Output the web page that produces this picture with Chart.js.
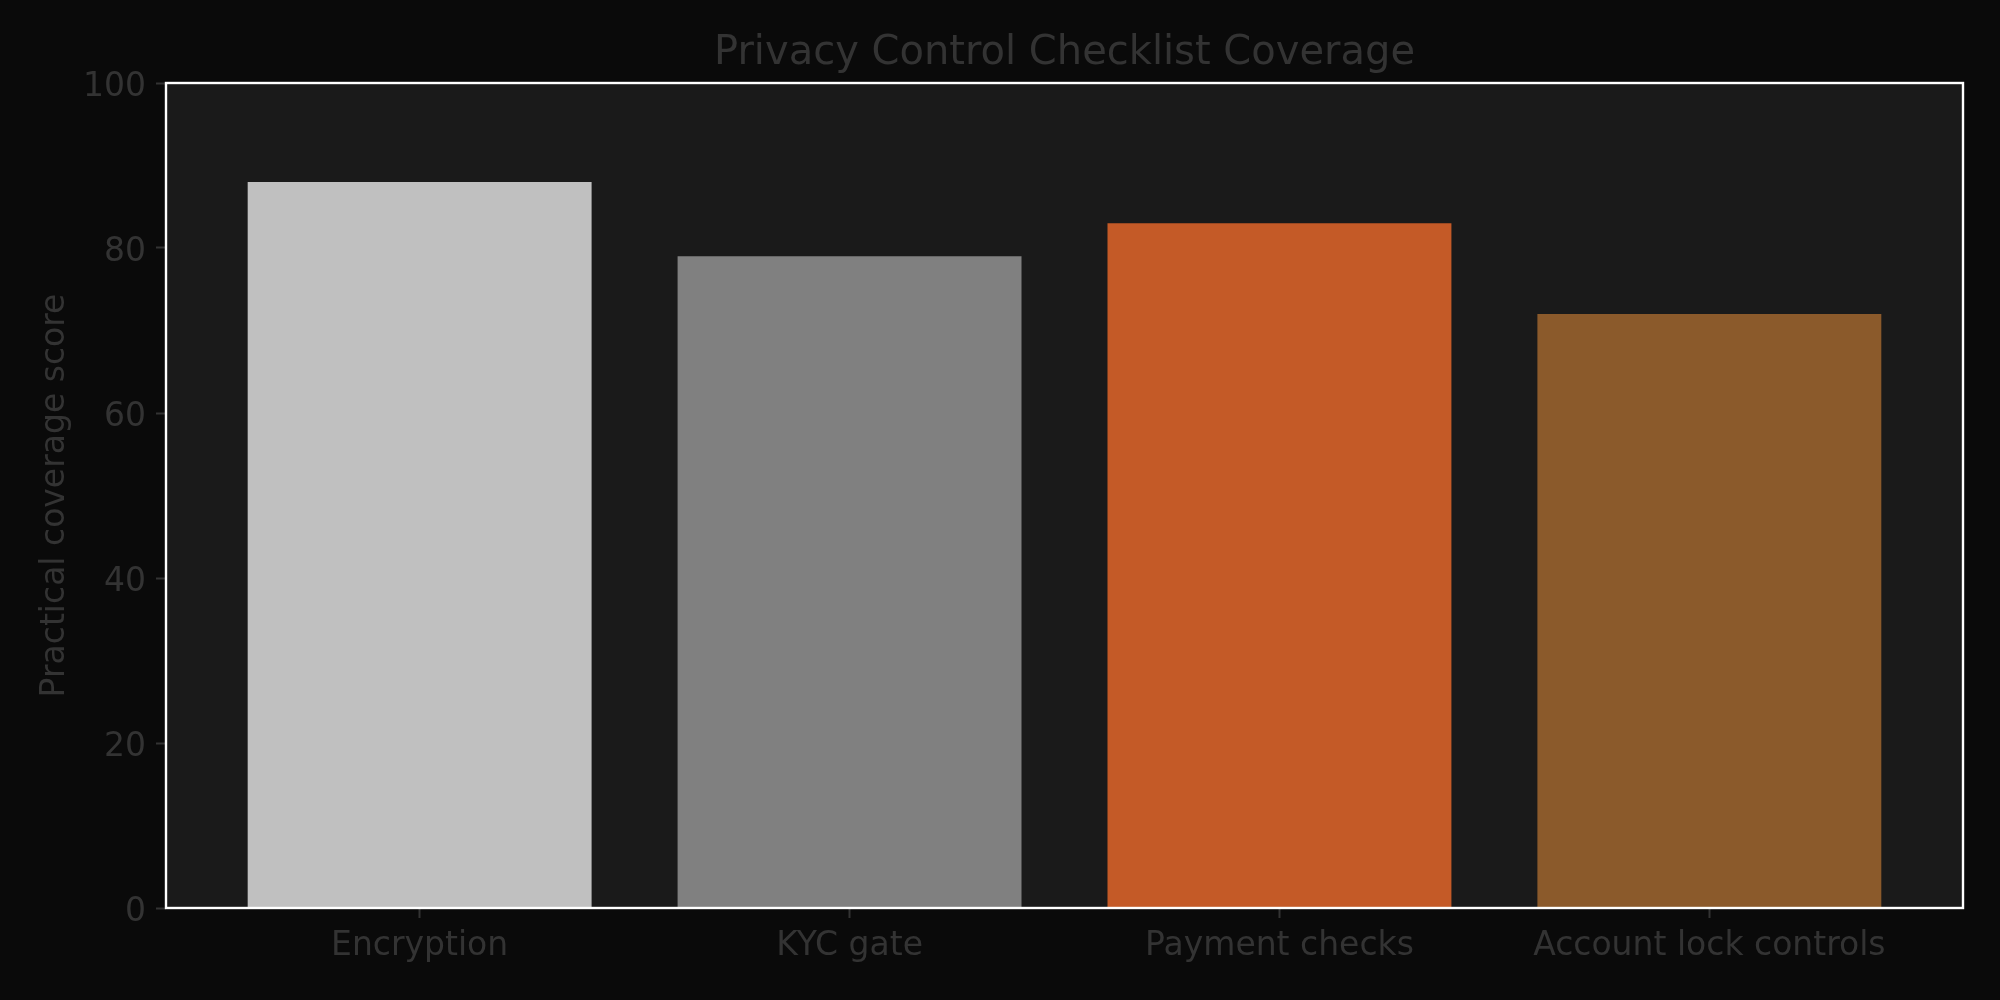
<!DOCTYPE html>
<html>
<head>
<meta charset="utf-8">
<title>Privacy Control Checklist Coverage</title>
<script src="https://cdn.jsdelivr.net/npm/chart.js@4.4.1/dist/chart.umd.min.js"></script>
<style>
  html, body { margin: 0; padding: 0; background: #0a0a0a; }
  #wrap { width: 2000px; height: 1000px; }
</style>
</head>
<body>
<div id="wrap"><canvas id="coverageChart" width="2000" height="1000"></canvas></div>
<script>
// Chart data
const controls = ['Encryption', 'KYC gate', 'Payment checks', 'Account lock controls'];
const coverageScores = [88, 79, 83, 72];
const barColors = ['#c0c0c0', '#808080', '#c45a27', '#8b5a2b'];
const yTicks = [0, 20, 40, 60, 80, 100];

const textColor = '#333333';
const font = 'DejaVu Sans';

// plot background + white frame round the plot area
const framePlugin = {
  id: 'frame',
  beforeDraw(chart) {
    const ctx = chart.ctx;
    const a = chart.chartArea;
    ctx.save();
    ctx.fillStyle = '#0a0a0a';
    ctx.fillRect(0, 0, chart.width, chart.height);
    ctx.fillStyle = '#1a1a1a';
    ctx.fillRect(a.left, a.top, a.right - a.left, a.bottom - a.top);
    ctx.restore();
  },
  afterDatasetsDraw(chart) {
    const ctx = chart.ctx;
    const a = chart.chartArea;
    ctx.save();
    ctx.strokeStyle = '#ffffff';
    ctx.lineWidth = 2.4;
    ctx.strokeRect(a.left, a.top, a.right - a.left, a.bottom - a.top);
    ctx.restore();
  }
};

const ctx = document.getElementById('coverageChart').getContext('2d');
const coverageChart = new Chart(ctx, {
  type: 'bar',
  data: {
    datasets: [{
      label: 'Practical coverage score',
      data: coverageScores.map((v, i) => ({ x: i, y: v })),
      backgroundColor: barColors,
      borderWidth: 0,
      categoryPercentage: 1,
      barPercentage: 0.8
    }]
  },
  options: {
    responsive: false,
    devicePixelRatio: 1,
    animation: false,
    layout: { padding: { left: 0, right: 37, top: 0, bottom: 0 } },
    plugins: {
      legend: { display: false },
      tooltip: { enabled: false },
      title: {
        display: true,
        fullSize: false,   // centre over the plot area, not the canvas
        text: 'Privacy Control Checklist Coverage',
        color: textColor,
        font: { family: font, size: 40, weight: 'normal' },
        padding: { top: 30, bottom: 5 }
      }
    },
    scales: {
      x: {
        type: 'linear',
        min: -0.59,
        max: 3.59,
        offset: false,
        afterBuildTicks: scale => {
          scale.ticks = controls.map((c, i) => ({ value: i }));
        },
        afterFit: scale => { scale.height = 92; },
        ticks: {
          color: textColor,
          font: { family: font, size: 33 },
          padding: 9,
          autoSkip: false,
          maxRotation: 0,
          callback: value => controls[value]
        },
        grid: {
          offset: false,
          drawOnChartArea: false,
          drawTicks: true,
          tickLength: 10,
          tickWidth: 2,
          color: textColor
        },
        border: { display: false }
      },
      y: {
        min: 0,
        max: 100,
        afterBuildTicks: scale => {
          scale.ticks = yTicks.map(v => ({ value: v }));
        },
        afterFit: scale => { scale.width = 166; },
        ticks: {
          color: textColor,
          font: { family: font, size: 33 },
          padding: 10,
          labelOffset: 4
        },
        grid: {
          drawOnChartArea: false,
          drawTicks: true,
          tickLength: 10,
          tickWidth: 2,
          color: textColor
        },
        border: { display: false },
        title: {
          display: true,
          text: 'Practical coverage score',
          color: textColor,
          font: { family: font, size: 33 },
          padding: { top: 36, bottom: 0 }
        }
      }
    }
  },
  plugins: [framePlugin]
});
</script>
</body>
</html>
